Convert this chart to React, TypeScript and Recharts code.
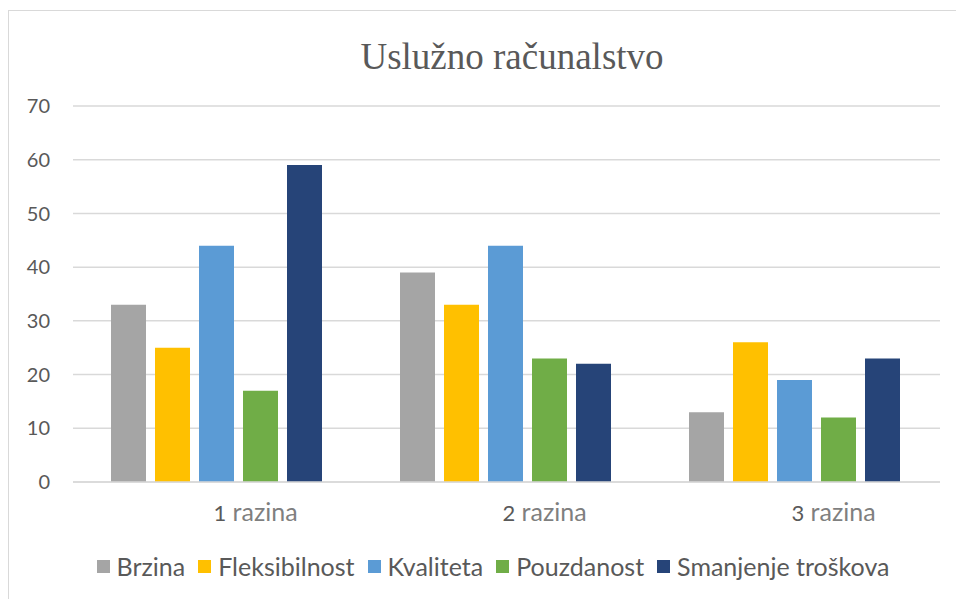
import { BarChart, Bar, XAxis, YAxis, CartesianGrid } from "recharts";

const categories = ["1 razina", "2 razina", "3 razina"];
const brzina = [33, 39, 13];
const fleksibilnost = [25, 33, 26];
const kvaliteta = [44, 44, 19];
const pouzdanost = [17, 23, 12];
const smanjenjeTroskova = [59, 22, 23];
const yTicks = [0, 10, 20, 30, 40, 50, 60, 70];

const series = [
  { key: "brzina", name: "Brzina", color: "#A5A5A5", values: brzina },
  { key: "fleksibilnost", name: "Fleksibilnost", color: "#FFC000", values: fleksibilnost },
  { key: "kvaliteta", name: "Kvaliteta", color: "#5B9BD5", values: kvaliteta },
  { key: "pouzdanost", name: "Pouzdanost", color: "#70AD47", values: pouzdanost },
  { key: "smanjenje", name: "Smanjenje troškova", color: "#264478", values: smanjenjeTroskova },
];

const data = categories.map((cat, i) => {
  const row: Record<string, string | number> = { cat };
  series.forEach((s) => {
    row[s.key] = s.values[i];
  });
  return row;
});

const FONT = "Lato, 'Open Sans', sans-serif";

function CategoryTick({ x, y, payload }: { x?: number; y?: number; payload?: { value: string } }) {
  const [num, ...rest] = String(payload?.value ?? "").split(" ");
  return (
    <text x={(x ?? 0) + 38} y={(y ?? 0) + 31} textAnchor="middle" fontFamily={FONT} fontSize={25} fill="#7f7f7f">
      <tspan fill="#595959" fontSize={22}>{num}</tspan>
      <tspan> {rest.join(" ")}</tspan>
    </text>
  );
}

function LegendRow() {
  return (
    <div
      style={{
        position: "absolute",
        top: 551,
        left: 0,
        width: 986,
        display: "flex",
        justifyContent: "center",
        gap: 13,
        fontFamily: FONT,
        fontSize: 25,
        lineHeight: "30px",
        color: "#595959",
      }}
    >
      {series.map((s) => (
        <div key={s.key} style={{ display: "flex", alignItems: "center", gap: 7 }}>
          <span style={{ width: 13, height: 13, background: s.color, display: "inline-block" }} />
          <span>{s.name}</span>
        </div>
      ))}
    </div>
  );
}

export default function App() {
  return (
    <div style={{ position: "absolute", left: 0, top: 0, width: 956, height: 599, background: "#fff", overflow: "hidden" }}>
      <div
        style={{
          position: "absolute",
          left: 8,
          top: 10,
          right: -4,
          bottom: -4,
          border: "1.5px solid #d9d9d9",
        }}
      />
      <div
        style={{
          position: "absolute",
          left: 0,
          width: 1024,
          top: 36,
          textAlign: "center",
          fontFamily: "'Liberation Serif', 'Times New Roman', serif",
          fontSize: 37,
          lineHeight: "42px",
          color: "#595959",
        }}
      >
        Uslužno računalstvo
      </div>
      <div style={{ position: "absolute", left: 0, top: 0 }}>
        <BarChart
          width={956}
          height={599}
          data={data}
          margin={{ top: 106, right: 16, bottom: 77, left: 0 }}
          barCategoryGap={38}
          barGap={9}
        >
          <CartesianGrid vertical={false} stroke="#d9d9d9" strokeWidth={1.5} />
          <XAxis
            dataKey="cat"
            axisLine={{ stroke: "#d9d9d9", strokeWidth: 1.5 }}
            tickLine={false}
            height={40}
            tick={<CategoryTick />}
          />
          <YAxis
            width={73}
            domain={[0, 70]}
            ticks={yTicks}
            axisLine={false}
            tickLine={false}
            tickSize={0}
            tickMargin={23}
            tick={{ fontFamily: FONT, fontSize: 20, fill: "#595959" }}
          />
          {series.map((s) => (
            <Bar key={s.key} dataKey={s.key} name={s.name} fill={s.color} isAnimationActive={false} />
          ))}
        </BarChart>
      </div>
      <LegendRow />
    </div>
  );
}
